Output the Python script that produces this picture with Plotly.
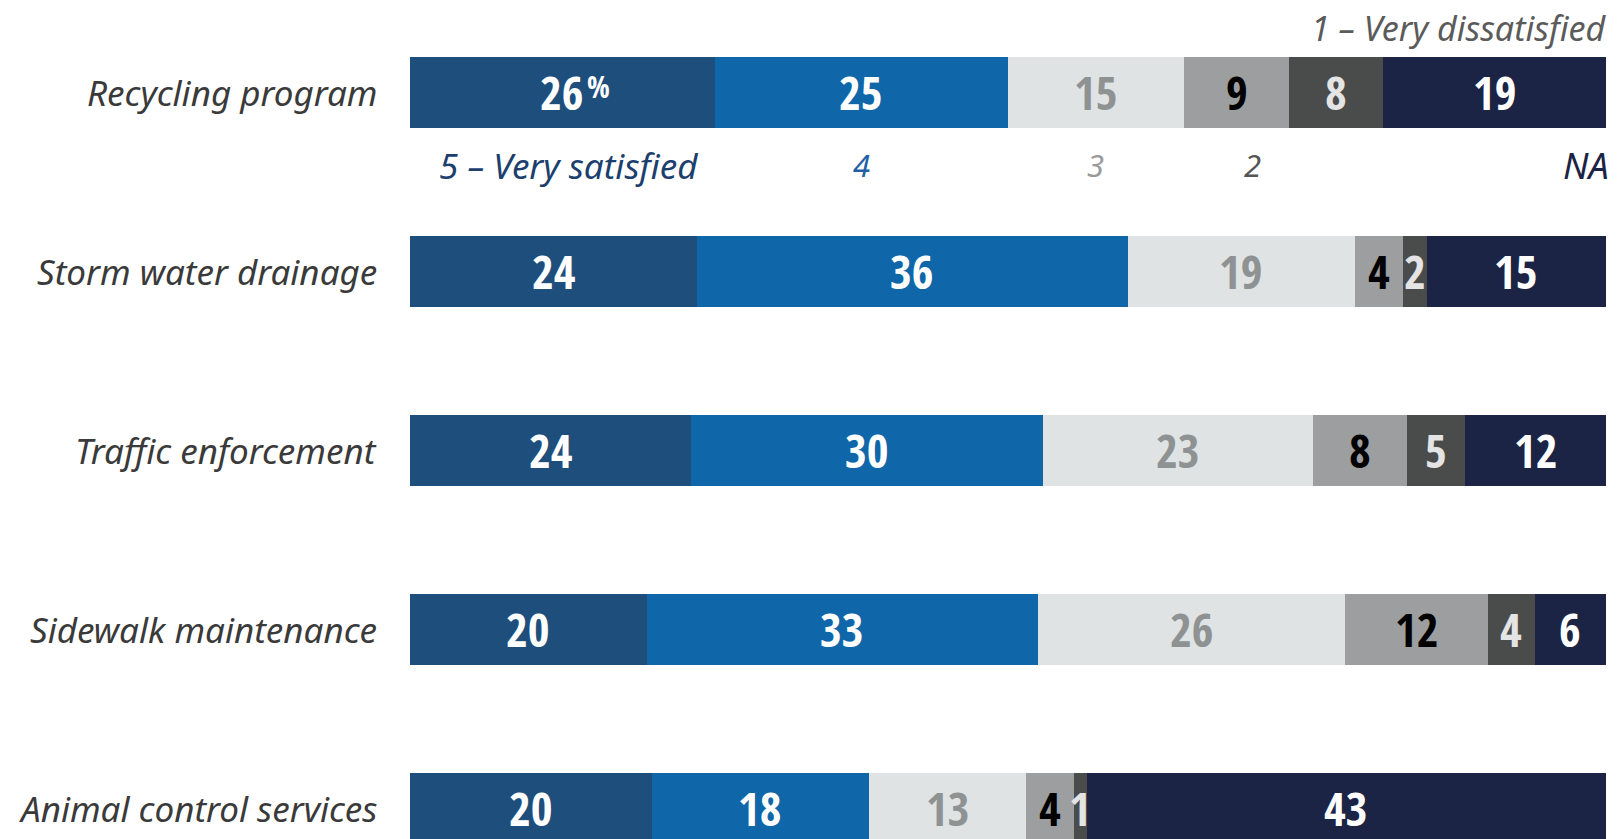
import plotly.graph_objects as go
import numpy as np

categories = ["Recycling program", "Storm water drainage", "Traffic enforcement",
              "Sidewalk maintenance", "Animal control services"]
series_names = ["5 – Very satisfied", "4", "3", "2", "1 – Very dissatisfied", "NA"]
very_satisfied = [26, 24, 24, 20, 20]
satisfied = [25, 36, 30, 33, 18]
neutral = [15, 19, 23, 26, 13]
dissatisfied = [9, 4, 8, 12, 4]
very_dissatisfied = [8, 2, 5, 4, 1]
not_applicable = [19, 15, 12, 6, 43]

series = [very_satisfied, satisfied, neutral, dissatisfied, very_dissatisfied, not_applicable]
bar_colors = ["#1E4E7B", "#0F66A8", "#DFE3E4", "#9C9E9F", "#4A4B4B", "#1B2445"]
text_colors = ["#FFFFFF", "#FFFFFF", "#8E9292", "#000000", "#E4E4E4", "#FFFFFF"]

OFF = 8
W, H = 1618 - OFF, 839 - OFF
x0_px, x1_px = 410 - OFF, 1606 - OFF
row0_px, row_step = 92 - OFF, 179
bar_h_px = 71

vals = np.array(series, dtype=float)
totals = vals.sum(axis=0)
norm = vals / totals * 100
cum = np.cumsum(norm, axis=0)
mid = cum - norm / 2

ypos = list(range(len(categories)))

fig = go.Figure()
for i, name in enumerate(series_names):
    fig.add_trace(go.Bar(
        y=ypos, x=norm[i], base=cum[i] - norm[i], orientation="h",
        name=name, marker=dict(color=bar_colors[i], line=dict(width=0)),
        width=bar_h_px / row_step, showlegend=False, hoverinfo="skip",
    ))

num_font = "Open Sans Condensed, Roboto Condensed, sans-serif"
annotations = []

for i in range(len(series)):
    for j in range(len(categories)):
        annotations.append(dict(
            x=mid[i, j], y=j, xref="x", yref="y", text="<b>%d</b>" % series[i][j],
            showarrow=False, font=dict(family=num_font, size=47, color=text_colors[i]),
            xanchor="center", yanchor="middle",
        ))
# percent sign next to the first value
annotations.append(dict(
    x=mid[0, 0], y=0, xref="x", yref="y", text="%", showarrow=False,
    font=dict(family="Open Sans Condensed, sans-serif", size=30, color="#FFFFFF"),
    xanchor="left", yanchor="middle", xshift=23, yshift=6,
))

lab_font = "Noto Sans, Lato, sans-serif"
for j, c in enumerate(categories):
    annotations.append(dict(
        x=0, y=j, xref="x", yref="y", text="<i>%s</i>" % c, showarrow=False,
        font=dict(family=lab_font, size=35, color="#3A3A3A"),
        xanchor="right", yanchor="middle", xshift=-31,
    ))

y_top = (28 - OFF - row0_px) / row_step
y_bot = (165 - OFF - row0_px) / row_step
annotations.append(dict(x=100, y=y_top, xref="x", yref="y", text="<i>1 – Very dissatisfied</i>",
                        showarrow=False, xanchor="right", yanchor="middle", xshift=2,
                        font=dict(family=lab_font, size=34, color="#5B5B5B")))
leg_cols = ["#1C3F6E", "#1F5FA8", "#9A9A9A", "#555555"]
leg_shift = [6, 0, 0, 16]
for i in range(4):
    annotations.append(dict(x=mid[i, 0], y=y_bot, xref="x", yref="y",
                            text="<i>%s</i>" % series_names[i], showarrow=False,
                            xanchor="center", yanchor="middle", xshift=leg_shift[i],
                            font=dict(family=lab_font, size=35 if i == 0 else 31, color=leg_cols[i])))
annotations.append(dict(x=100, y=y_bot, xref="x", yref="y", text="<i>NA</i>",
                        showarrow=False, xanchor="right", yanchor="middle", xshift=5,
                        font=dict(family=lab_font, size=36, color="#1B2445")))

fig.update_layout(
    width=W, height=H, margin=dict(l=0, r=0, t=0, b=0),
    paper_bgcolor="white", plot_bgcolor="white", barmode="overlay", bargap=0,
    xaxis=dict(domain=[x0_px / W, x1_px / W], range=[0, 100], visible=False, fixedrange=True),
    yaxis=dict(range=[(H - row0_px) / row_step, -row0_px / row_step], visible=False, fixedrange=True),
    annotations=annotations,
)
fig.write_html("out.html")
